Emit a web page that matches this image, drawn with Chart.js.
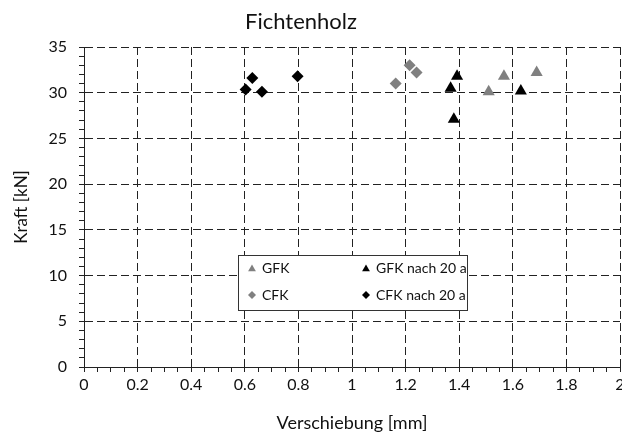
<!DOCTYPE html>
<html>
<head>
<meta charset="utf-8">
<script src="https://cdn.jsdelivr.net/npm/chart.js@4"></script>
<style>
  body { margin: 0; background: #fff; }
  #wrap { width: 622px; height: 432px; }
</style>
</head>
<body>
<div id="wrap"><canvas id="myChart" width="622" height="432"></canvas></div>
<script>
// data
var gfkX = [1.51, 1.567, 1.689];
var gfkY = [30.1, 31.8, 32.2];
var cfkX = [1.163, 1.215, 1.241];
var cfkY = [31.0, 33.0, 32.2];
var gfk20X = [1.368, 1.392, 1.38, 1.63];
var gfk20Y = [30.5, 31.8, 27.1, 30.2];
var cfk20X = [0.603, 0.628, 0.664, 0.797];
var cfk20Y = [30.35, 31.6, 30.1, 31.8];
var seriesNames = ["GFK", "CFK", "GFK nach 20 a", "CFK nach 20 a"];

var GREY = "#808080";
var FONT = "Lato, 'Open Sans', sans-serif";

function pts(xs, ys) {
  return xs.map(function (x, i) { return { x: x, y: ys[i] }; });
}

function isMajor(v, step) {
  var r = v / step;
  return Math.abs(r - Math.round(r)) < 1e-6;
}

// legend box inside the plot, like the excel original
var boxLegend = {
  id: "boxLegend",
  afterDraw: function (chart) {
    var ctx = chart.ctx;
    var x0 = 238, y0 = 255, w = 229, h = 55;
    ctx.save();
    ctx.fillStyle = "#fff";
    ctx.fillRect(x0, y0, w, h);
    ctx.strokeStyle = "#333";
    ctx.lineWidth = 1;
    ctx.strokeRect(x0 + 0.5, y0 + 0.5, w, h);
    ctx.font = "14px " + FONT;
    ctx.textBaseline = "middle";
    var cols = [x0 + 14, x0 + 128];
    var rows = [y0 + 13, y0 + 40];
    chart.data.datasets.forEach(function (ds, i) {
      var cx = cols[Math.floor(i / 2)];
      var cy = rows[i % 2];
      var tri = ds.pointStyle === "triangle";
      ctx.fillStyle = ds.backgroundColor;
      ctx.strokeStyle = ds.backgroundColor;
      Chart.helpers.drawPoint(ctx, {
        pointStyle: ds.pointStyle,
        radius: tri ? 4.5 : 4,
        borderWidth: 0
      }, cx, cy + (tri ? 1 : 0));
      ctx.fillStyle = "#111";
      ctx.fillText(ds.label, cx + 10, cy);
    });
    ctx.restore();
  }
};

var ctx = document.getElementById("myChart").getContext("2d");
var myChart = new Chart(ctx, {
  type: "scatter",
  data: {
    datasets: [
      { label: seriesNames[0], data: pts(gfkX, gfkY), pointStyle: "triangle", pointRadius: 7, backgroundColor: GREY, borderColor: GREY, borderWidth: 0 },
      { label: seriesNames[1], data: pts(cfkX, cfkY), pointStyle: "rectRot", pointRadius: 6, backgroundColor: GREY, borderColor: GREY, borderWidth: 0 },
      { label: seriesNames[2], data: pts(gfk20X, gfk20Y), pointStyle: "triangle", pointRadius: 7, backgroundColor: "#000", borderColor: "#000", borderWidth: 0 },
      { label: seriesNames[3], data: pts(cfk20X, cfk20Y), pointStyle: "rectRot", pointRadius: 6, backgroundColor: "#000", borderColor: "#000", borderWidth: 0 }
    ]
  },
  options: {
    responsive: false,
    animation: false,
    layout: { autoPadding: false, padding: { top: 47, right: 2, left: 0, bottom: 0 } },
    plugins: {
      legend: { display: false },
      tooltip: { enabled: false },
      title: { display: false }
    },
    scales: {
      x: {
        type: "linear",
        min: 0,
        max: 2,
        afterFit: function (s) { s.height = 65; s.paddingRight = 0; s.paddingLeft = 0; },
        afterBuildTicks: function (s) {
          s.ticks = [];
          for (var i = 0; i <= 40; i++) s.ticks.push({ value: i * 0.05 });
        },
        ticks: {
          autoSkip: false,
          maxRotation: 0,
          padding: 3,
          color: "#111",
          font: { family: FONT, size: 16 },
          callback: function (v) {
            return isMajor(v, 0.2) ? String(Math.round(v * 10) / 10) : "";
          }
        },
        grid: {
          tickLength: 5,
          lineWidth: 1,
          color: function (c) {
            var v = c.tick ? c.tick.value : 0;
            return isMajor(v, 0.2) && v > 0 ? "#222" : "rgba(0,0,0,0)";
          },
          tickColor: "#222"
        },
        border: { display: true, color: "#222", width: 1, dash: [8, 4] },
        title: {
          display: true,
          text: "Verschiebung [mm]",
          color: "#111",
          font: { family: FONT, size: 18 },
          padding: { top: 0, bottom: -2 }
        }
      },
      y: {
        type: "linear",
        min: 0,
        max: 35,
        afterFit: function (s) { s.width = 84; s.paddingTop = 0; s.paddingBottom = 0; },
        afterBuildTicks: function (s) {
          s.ticks = [];
          for (var i = 0; i <= 35; i++) s.ticks.push({ value: i });
        },
        ticks: {
          autoSkip: false,
          padding: 12,
          color: "#111",
          font: { family: FONT, size: 16 },
          callback: function (v) { return v % 5 === 0 ? String(v) : ""; }
        },
        grid: {
          tickLength: 5,
          lineWidth: 1,
          color: function (c) {
            var v = c.tick ? c.tick.value : 0;
            return v % 5 === 0 && v > 0 ? "#222" : "rgba(0,0,0,0)";
          },
          tickColor: "#222"
        },
        border: { display: true, color: "#222", width: 1, dash: [8, 4] },
        title: {
          display: true,
          text: "Kraft [kN]",
          color: "#111",
          font: { family: FONT, size: 17 },
          padding: { top: 11, bottom: 0 }
        }
      }
    }
  },
  plugins: [boxLegend, {
    id: "chartTitle",
    afterDraw: function (chart) {
      var c = chart.ctx;
      c.save();
      c.font = "22px " + FONT;
      c.fillStyle = "#111";
      c.textAlign = "center";
      c.textBaseline = "middle";
      c.fillText("Fichtenholz", 301, 22);
      c.restore();
    }
  }]
});
</script>
</body>
</html>
